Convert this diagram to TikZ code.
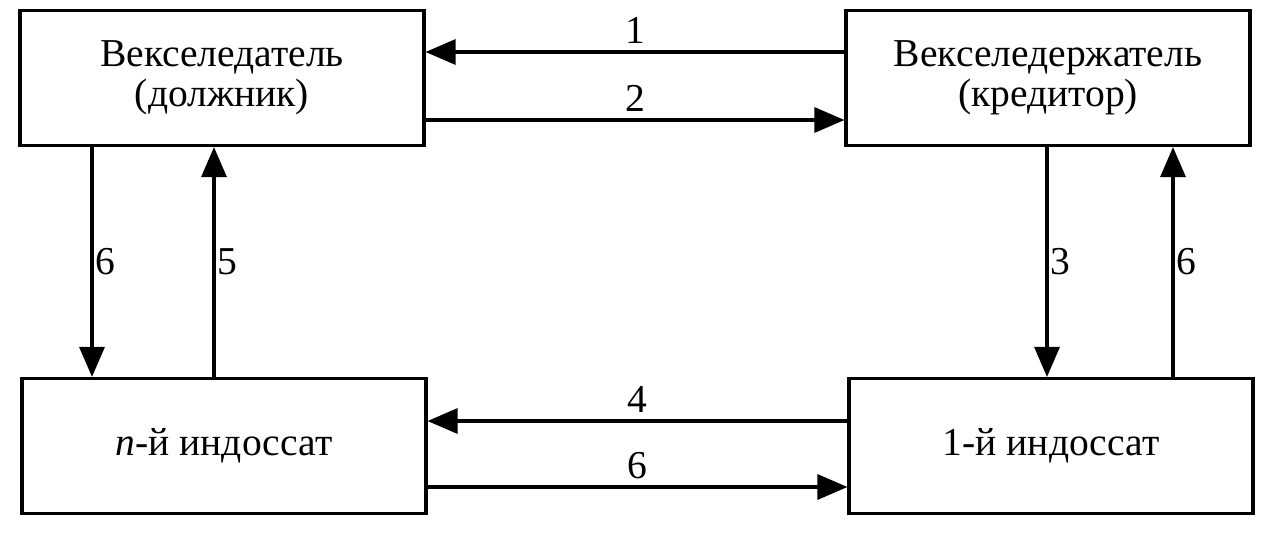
\documentclass[tikz,border=0pt]{standalone}
\usepackage{fontspec}
\setmainfont{Liberation Serif}
\usetikzlibrary{arrows.meta}

\begin{document}
\begin{tikzpicture}[x=0.02cm, y=-0.02cm, >={Triangle[length=0.6cm, width=0.5cm]},
    party/.style={draw, line width=1.8pt, minimum width=8.08cm, minimum height=2.7cm,
        align=center, font=\fontsize{22.5}{23}\selectfont},
    flow/.style={->, line width=1.8pt},
    num/.style={font=\fontsize{22.5}{23}\selectfont}]
    \useasboundingbox (0,0) rectangle (1264,539);

    % Parties
    \node[party] (drawer) at (222,78) {Векселедатель\\(должник)};
    \node[party] (holder) at (1048,78) {Векселедержатель\\(кредитор)};
    \node[party] (endn) at (224,446) {\textit{n}-й индоссат};
    \node[party] (endone) at (1051,446) {1-й индоссат};

    % Top pair
    \draw[flow] (holder.west |- 0,52) -- (drawer.east |- 0,52) node[num, midway, above=0.5pt] {1};
    \draw[flow] (drawer.east |- 0,120) -- (holder.west |- 0,120) node[num, midway, above=0.5pt] {2};

    % Bottom pair
    \draw[flow] (endone.west |- 0,421) -- (endn.east |- 0,421) node[num, midway, above=0.5pt] {4};
    \draw[flow] (endn.east |- 0,487) -- (endone.west |- 0,487) node[num, midway, above=0.5pt] {6};

    % Left side
    \draw[flow] (drawer.south -| 92,0) -- (endn.north -| 92,0) node[num, midway, right=-2pt] {6};
    \draw[flow] (endn.north -| 214,0) -- (drawer.south -| 214,0) node[num, midway, right=-2pt] {5};

    % Right side
    \draw[flow] (holder.south -| 1047,0) -- (endone.north -| 1047,0) node[num, midway, right=-2pt] {3};
    \draw[flow] (endone.north -| 1173,0) -- (holder.south -| 1173,0) node[num, midway, right=-2pt] {6};
\end{tikzpicture}
\end{document}
